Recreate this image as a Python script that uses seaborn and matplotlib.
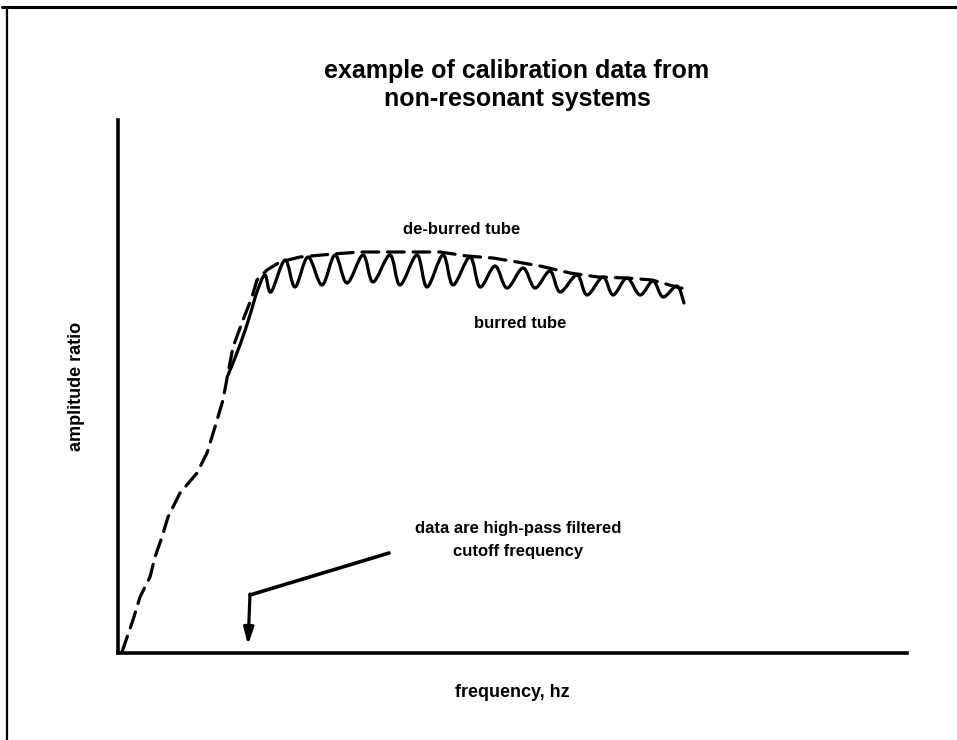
import numpy as np
import pandas as pd
import matplotlib
matplotlib.use("Agg")
import matplotlib.pyplot as plt
from matplotlib.path import Path
from matplotlib.patches import PathPatch
from matplotlib.lines import Line2D
import seaborn as sns

# de-burred tube response (frequency, amplitude ratio) in arbitrary units
deburred_freq = [4, 15, 22, 32, 37, 44, 50, 62, 79, 89, 97, 105, 110, 115, 125, 134,
                 139, 149, 162, 182, 215, 242, 272, 322, 349, 375, 399, 422, 452,
                 480, 509, 534, 562, 572]
deburred_amp = [1, 33, 56, 76, 96, 116, 136, 160, 180, 200, 226, 253, 280, 306, 333, 356,
                373, 383, 391, 396, 399, 401, 401, 401, 397, 395, 391, 387, 380,
                376, 375, 373, 365, 364]

# burred tube response: ripple peaks and troughs along the plateau
burred_freq = [110, 122, 132, 139, 147, 153, 167, 177, 190, 204, 217, 229, 245, 255,
               272, 282, 299, 309, 325, 335, 352, 362, 377, 389, 405, 417, 432, 442,
               459, 469, 485, 495, 509, 522, 535, 545, 559, 566]
burred_amp = [278, 308, 338, 361, 378, 361, 393, 366, 396, 368, 398, 370, 398, 371,
              398, 368, 398, 366, 398, 368, 396, 366, 387, 365, 385, 365, 382, 361,
              378, 358, 376, 358, 375, 358, 372, 356, 367, 350]

# cutoff-frequency pointer: leader line, elbow and arrow tip
pointer_freq = [271, 132, 130]
pointer_amp = [100, 58, 8]

title_text = "example of calibration data from\nnon-resonant systems"
xlabel_text = "frequency, hz"
ylabel_text = "amplitude ratio"
deburred_label = "de-burred tube"
burred_label = "burred tube"
note_text = "data are high-pass filtered\ncutoff frequency"

sns.set_style("white")
plt.rcParams["font.family"] = ["Liberation Sans", "DejaVu Sans"]

fig = plt.figure(figsize=(9.57, 7.40), dpi=100)
ax = fig.add_axes([118 / 957, 87 / 740, 789 / 957, 533 / 740])
ax.set_xlim(0, 789)
ax.set_ylim(0, 533)

ink = "#000000"
lw = 2.3

# de-burred tube: dashed curve
deb = pd.DataFrame({"freq": deburred_freq, "amp": deburred_amp})
sns.lineplot(data=deb, x="freq", y="amp", ax=ax, color=ink, lw=lw,
             sort=False, estimator=None)
ax.lines[-1].set_dashes((5.2, 2.8))
ax.lines[-1].set_dash_capstyle("round")


def smooth_path(xs, ys):
    pts = np.column_stack([xs, ys]).astype(float)
    ext = np.vstack([pts[0], pts, pts[-1]])
    verts = [tuple(pts[0])]
    codes = [Path.MOVETO]
    for i in range(1, len(ext) - 2):
        p0, p1, p2, p3 = ext[i - 1], ext[i], ext[i + 1], ext[i + 2]
        c1 = p1 + (p2 - p0) / 6.0
        c2 = p2 - (p3 - p1) / 6.0
        verts += [tuple(c1), tuple(c2), tuple(p2)]
        codes += [Path.CURVE4] * 3
    return Path(verts, codes)


# burred tube: solid rippled curve
ax.add_patch(PathPatch(smooth_path(burred_freq, burred_amp), facecolor="none",
                       edgecolor=ink, lw=lw, capstyle="round", joinstyle="round"))

# cutoff frequency pointer
sns.lineplot(x=pointer_freq[:2], y=pointer_amp[:2], ax=ax, color=ink, lw=2.6,
             sort=False, estimator=None)
ax.annotate("", xy=(pointer_freq[2], pointer_amp[2]),
            xytext=(pointer_freq[1], pointer_amp[1] + 1),
            arrowprops=dict(arrowstyle="-|>,head_length=1.0,head_width=0.3",
                            color=ink, lw=2.3, shrinkA=0, shrinkB=0))

# axes: only left and bottom lines
for side in ("top", "right"):
    ax.spines[side].set_visible(False)
for side in ("left", "bottom"):
    ax.spines[side].set_linewidth(2.6)
    ax.spines[side].set_color(ink)
ax.set_xticks([])
ax.set_yticks([])
ax.set_xlabel(xlabel_text, fontsize=13, fontweight="bold", color=ink, labelpad=22)
ax.set_ylabel(ylabel_text, fontsize=13, fontweight="bold", color=ink, labelpad=24)

bold = dict(fontweight="bold", color=ink)
fig.text(517 / 957, 1 - 85 / 740, title_text, ha="center", va="center",
         fontsize=18, linespacing=1.25, **bold)
ax.text(344, 424, deburred_label, ha="center", va="center", fontsize=12, **bold)
ax.text(402, 329, burred_label, ha="center", va="center", fontsize=12, **bold)
ax.text(400, 113, note_text, ha="center", va="center", fontsize=12,
        linespacing=1.6, **bold)

# outer frame edges
fig.add_artist(Line2D([2 / 957, 1.0], [1 - 7 / 740, 1 - 7 / 740],
                      transform=fig.transFigure, color=ink, lw=2.2))
fig.add_artist(Line2D([7 / 957, 7 / 957], [1 - 7 / 740, 0.0],
                      transform=fig.transFigure, color=ink, lw=1.6))

fig.savefig("out.png", dpi=100, facecolor="white")
